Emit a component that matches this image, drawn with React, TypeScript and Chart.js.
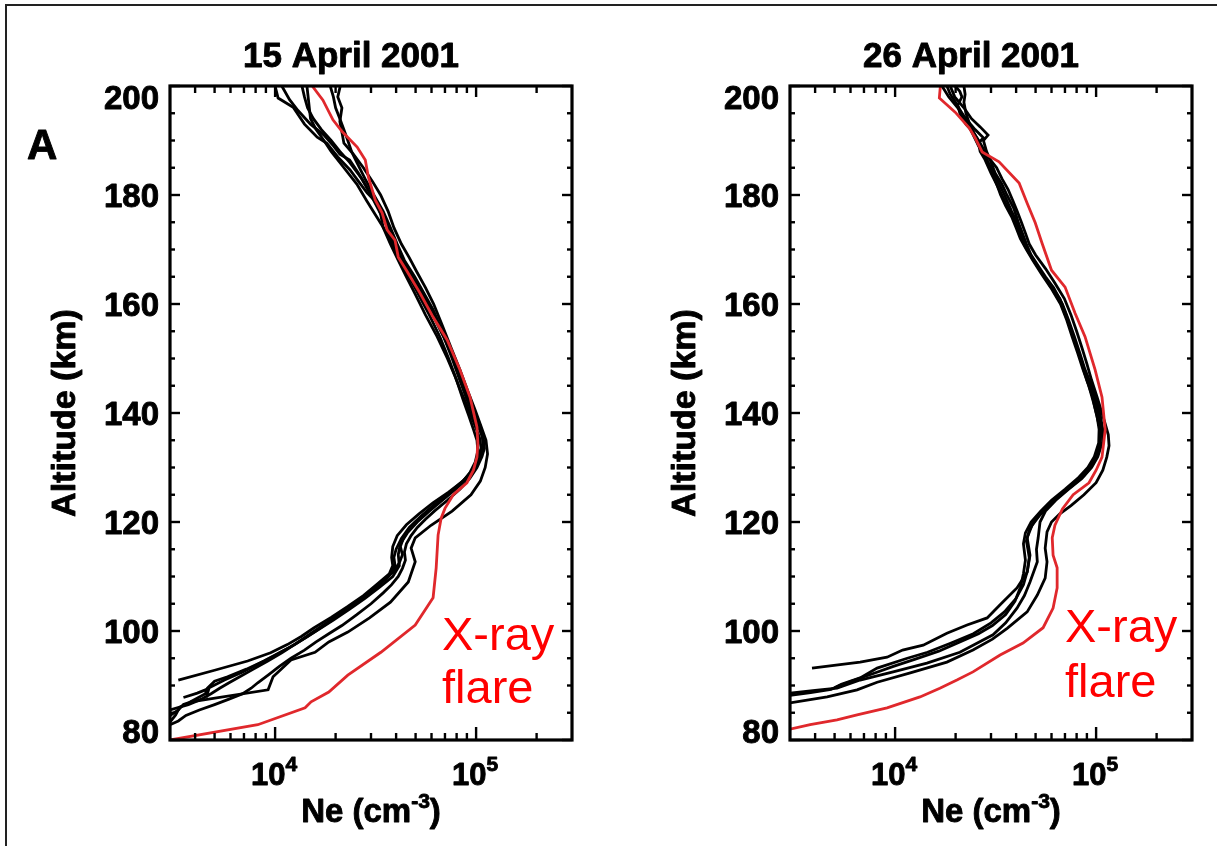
import React, { useEffect, useRef } from 'react';
import { Chart, registerables } from 'chart.js';

Chart.register(...registerables);

// ---------- axis values ----------
const NE_MIN = 3000;
const NE_MAX = 300000;
const ALT_MIN = 80;
const ALT_MAX = 200;
const altMajorTicks = [80, 100, 120, 140, 160, 180, 200];
const altTickLabels = ['80', '100', '120', '140', '160', '180', '200'];
const altMinorTicks = [85, 90, 95, 105, 110, 115, 125, 130, 135, 145, 150, 155, 165, 170, 175, 185, 190, 195];
const neMajorTicks = [10000, 100000];
const neTickExponents = ['4', '5'];
const neMinorTicks = [4000, 5000, 6000, 7000, 8000, 9000, 20000, 30000, 40000, 50000, 60000, 70000, 80000, 90000, 200000];

// ---------- 15 April 2001 : [altitude km, Ne cm^-3] ----------
const apr15Red: [number, number][] = [
  [80.0, 3000], [82.8, 8200], [85.9, 14100], [87.0, 15100], [88.8, 18500], [91.9, 23000], [96.1, 33600],
  [101.1, 49800], [106.1, 61100], [111.6, 63300], [117.6, 64700], [120.7, 67000], [122.5, 70000],
  [125.0, 77000], [127.2, 90000], [129.5, 97000], [131.9, 101000], [134.5, 102000], [137.4, 101000],
  [142.9, 93300], [147.9, 83200], [153.4, 71800], [157.6, 61100], [162.0, 52600], [166.2, 45000],
  [168.6, 41000], [171.7, 39500], [173.6, 36100], [176.7, 34100], [179.1, 31500], [183.3, 29100],
  [186.4, 28100], [188.8, 25600], [191.6, 21600], [193.8, 19400], [197.4, 17300], [200.0, 15300],
];
const apr15Black1: [number, number][] = [
  [91.0, 3300], [92.8, 5000], [94.5, 7300], [96.0, 9500], [97.5, 11500], [99.0, 13500], [100.5, 15500],
  [102.5, 19000], [104.5, 23000], [106.5, 27500], [108.5, 32000], [110.5, 37000], [112.0, 38500],
  [113.5, 38000], [115.5, 38500], [117.5, 40500], [119.5, 45000], [121.5, 52000], [123.5, 61000],
  [125.5, 73000], [127.5, 86000], [129.5, 96000], [131.5, 103000], [133.5, 106000], [135.5, 104000],
  [138.0, 98000], [141.0, 91000], [144.0, 84000], [147.0, 78000], [150.0, 72000], [154.0, 64000],
  [158.0, 56000], [162.0, 49500], [165.0, 45000], [168.0, 41000], [171.0, 37500], [174.0, 34500],
  [176.5, 33500], [178.5, 32200], [180.4, 28700], [182.5, 26000], [184.6, 23600], [187.0, 20500],
  [189.5, 18100], [190.6, 16200], [193.0, 14000], [196.1, 12300], [197.8, 10350], [200.0, 10000],
];
const apr15Black2: [number, number][] = [
  [87.8, 3500], [88.6, 4100], [89.2, 4500], [88.4, 4600], [89.6, 4700], [91.0, 5600], [92.5, 6900],
  [94.0, 8300], [95.5, 10000], [97.0, 11800], [98.5, 13800], [100.0, 16000], [102.0, 19500],
  [104.0, 23500], [106.0, 28000], [108.0, 33000], [110.0, 38500], [112.0, 41500], [114.0, 41000],
  [116.0, 42000], [118.0, 45500], [120.0, 51000], [122.0, 58500], [124.0, 68000], [126.0, 79000],
  [128.0, 90000], [130.0, 99000], [132.0, 105000], [134.0, 109000], [136.0, 107000], [138.5, 101000],
  [141.5, 94000], [145.0, 87000], [149.0, 79000], [153.0, 71000], [157.0, 63000], [160.0, 57000],
  [163.0, 51000], [166.0, 46500], [169.0, 41500], [172.0, 38000], [175.0, 35500], [178.0, 33000],
  [181.0, 29000], [184.0, 26000], [186.4, 23500], [187.5, 21000], [189.0, 19500], [191.0, 17500],
  [193.0, 15000], [195.5, 13000], [197.5, 11800], [200.0, 10800],
];
const apr15Black3: [number, number][] = [
  [83.3, 3000], [84.6, 3200], [86.0, 3350], [87.0, 3820], [89.2, 9230], [91.6, 9770], [94.7, 12000],
  [96.1, 15800], [98.0, 18500], [99.8, 23000], [102.4, 29500], [105.3, 37500], [109.0, 46000],
  [112.7, 49800], [115.2, 47500], [117.1, 49800], [119.4, 59700], [122.0, 76000], [125.0, 94300],
  [127.5, 105000], [130.0, 111000], [132.5, 114000], [135.0, 112000], [137.5, 106000], [140.5, 99000],
  [144.0, 91000], [148.0, 83000], [152.0, 75000], [156.0, 68000], [160.0, 61500], [163.0, 56000],
  [166.0, 50500], [168.5, 46500], [171.0, 42500], [174.0, 39000], [177.0, 36500], [180.0, 33500],
  [182.5, 30500], [185.0, 27500], [187.5, 24500], [189.5, 22000], [191.5, 21500], [193.5, 21000],
  [196.0, 21500], [198.0, 20500], [200.0, 21100],
];
const apr15Black4: [number, number][] = [
  [85.5, 3000], [86.5, 3700], [87.5, 4300], [88.5, 4800], [89.5, 5300], [90.5, 5900], [91.5, 6600],
  [93.0, 7800], [94.5, 9200], [96.0, 10800], [97.5, 12500], [99.0, 14500], [101.0, 17500],
  [103.0, 21000], [105.0, 25000], [107.0, 29500], [109.0, 34000], [110.5, 37500], [112.0, 39500],
  [113.5, 39000], [115.0, 40000], [117.0, 42500], [119.0, 46500], [121.0, 53000], [123.0, 62000],
  [125.0, 72600], [127.0, 84000], [129.0, 93000], [131.0, 99000], [133.0, 102000], [135.0, 101000],
  [137.0, 97000], [139.5, 92000], [142.5, 86000], [146.0, 80000], [150.0, 73000], [154.0, 66000],
  [158.0, 58500], [161.0, 53000], [164.0, 48000], [167.0, 43000], [170.0, 39500], [173.0, 36000],
  [176.0, 32000], [179.0, 28500], [182.0, 25500], [185.0, 22000], [188.0, 19000], [190.0, 17500],
  [192.0, 16000], [194.0, 15000], [196.0, 14800], [198.0, 14600], [200.0, 14400],
];
const apr15Black5: [number, number][] = [
  [84.5, 3000], [85.5, 3300], [86.5, 3500], [86.8, 3700], [88.5, 4500], [89.5, 4600], [90.8, 5000],
  [91.6, 5800], [93.0, 7200], [94.5, 8800], [96.0, 10500], [97.5, 12500], [99.5, 15000],
  [101.5, 18000], [103.5, 21500], [105.5, 26000], [107.5, 30500], [109.5, 35500], [111.0, 39000],
  [112.5, 41500], [114.0, 43000], [115.5, 42000], [117.0, 43500], [118.5, 46000], [120.0, 50000],
  [122.0, 57000], [124.0, 66000], [126.0, 77000], [128.0, 89000], [130.0, 98000], [132.0, 103000],
  [134.0, 107000], [136.0, 108000], [138.0, 104000], [140.5, 98000], [143.5, 91000], [147.0, 83000],
  [151.0, 75000], [155.0, 68000], [159.0, 61000], [162.0, 55000], [165.0, 49500], [168.0, 44000],
  [171.0, 40500], [174.0, 37500], [177.0, 34500], [180.0, 31000], [183.0, 28000], [186.0, 25500],
  [188.0, 24000], [190.0, 23000], [192.0, 22000], [194.0, 21000], [196.0, 20000], [198.0, 19500],
  [200.0, 18800],
];
const apr15Black6: [number, number][] = [
  [82.8, 3000], [83.5, 3300], [84.5, 3600], [85.5, 4200], [86.5, 5000], [87.5, 5900], [88.5, 6900],
  [89.5, 7600], [90.5, 8200], [92.0, 9300], [93.5, 10500], [95.0, 12000], [96.5, 14000],
  [98.0, 16000], [99.5, 18500], [101.0, 21500], [103.0, 25500], [105.0, 30000], [107.0, 34500],
  [108.5, 38000], [110.0, 41000], [111.5, 43000], [113.0, 44500], [114.5, 44000], [116.0, 45000],
  [117.5, 47500], [119.0, 51000], [120.5, 56000], [122.0, 62000], [124.0, 72000], [126.0, 83000],
  [128.0, 93000], [130.0, 101000], [132.0, 107000], [133.5, 110000], [135.0, 109000], [137.0, 104000],
  [139.5, 97000], [142.5, 90000], [146.0, 83000], [150.0, 76000], [154.0, 69000], [158.0, 61000],
  [161.5, 55000], [165.0, 48000], [168.0, 43000], [171.0, 39500], [174.0, 36500], [177.0, 33000],
  [180.0, 30000], [183.0, 27000], [186.0, 23500], [188.0, 21000], [190.0, 19000], [192.0, 17000],
  [194.0, 15500], [196.0, 14500], [198.0, 14000], [200.0, 13600],
];

// ---------- 26 April 2001 : [altitude km, Ne cm^-3] ----------
const apr26Red: [number, number][] = [
  [82.0, 3000], [82.8, 3780], [83.7, 5140], [84.6, 6470], [85.9, 9120], [87.9, 13300], [89.5, 16700],
  [91.0, 20300], [92.5, 24400], [95.6, 33300], [97.8, 43300], [100.6, 54500], [104.2, 61100],
  [107.9, 64000], [111.6, 64000], [113.9, 61100], [117.1, 60500], [119.4, 62400], [122.4, 68000],
  [125.0, 76900], [127.2, 92200], [129.5, 100000], [131.9, 107000], [136.9, 111000], [142.9, 107000],
  [147.9, 98900], [154.0, 88100], [158.3, 78600], [163.1, 70100], [166.2, 60000], [171.2, 53800],
  [174.9, 49800], [178.5, 45400], [182.2, 41400], [186.1, 32900], [187.9, 27100], [190.5, 25000],
  [192.3, 23400], [195.2, 19900], [197.8, 16600], [200.0, 16800],
];
const apr26Black1: [number, number][] = [
  [93.2, 3860], [93.8, 5200], [94.3, 6700], [95.2, 9120], [96.5, 10900], [97.4, 13800], [99.6, 18100],
  [101.1, 22800], [102.4, 28700], [104.8, 33300], [107.9, 40400], [110.8, 45400], [113.9, 46900],
  [117.1, 45400], [119.4, 48000], [121.3, 52600], [123.7, 61100], [126.0, 72000], [128.0, 84000],
  [130.0, 93000], [132.0, 100000], [134.0, 104000], [136.5, 106000], [139.0, 104000], [142.0, 99000],
  [145.0, 93000], [148.0, 87000], [151.0, 82000], [154.0, 77000], [157.0, 72000], [160.0, 67000],
  [163.0, 60000], [166.0, 53000], [168.0, 49000], [170.0, 45500], [172.0, 43000], [174.5, 41000],
  [177.0, 38000], [180.0, 35000], [183.0, 32000], [185.0, 30000], [187.0, 28000], [189.0, 26000],
  [191.0, 24500], [193.0, 23000], [195.0, 21500], [197.0, 20000], [198.5, 18800], [200.0, 18100],
];
const apr26Black2: [number, number][] = [
  [88.6, 3000], [89.1, 4000], [89.5, 5140], [89.7, 5300], [91.0, 6700], [92.5, 9780], [94.1, 14400],
  [96.1, 21000], [99.3, 30700], [101.5, 35500], [104.2, 40400], [106.5, 44000], [109.0, 46900],
  [112.7, 51000], [115.0, 50500], [117.1, 51500], [120.0, 52600], [122.0, 56000], [124.0, 63000],
  [126.0, 73000], [128.0, 85000], [130.0, 95000], [132.0, 102000], [134.5, 107000], [137.0, 108000],
  [139.5, 105000], [142.0, 101000], [145.0, 95000], [148.0, 88000], [151.0, 83000], [154.0, 78000],
  [157.0, 73000], [160.0, 68000], [163.0, 61500], [165.0, 56000], [167.0, 51500], [169.0, 47500],
  [171.0, 45000], [173.0, 43000], [175.0, 41000], [177.5, 39000], [180.0, 36000], [182.0, 34000],
  [184.0, 31500], [186.0, 30000], [188.0, 28500], [190.0, 27500], [191.0, 29000], [192.5, 26500],
  [194.0, 24000], [196.0, 22000], [198.0, 19800], [200.0, 18800],
];
const apr26Black3: [number, number][] = [
  [86.8, 3000], [87.9, 4590], [89.2, 6470], [90.6, 8140], [92.3, 11900], [94.3, 18100], [96.5, 24400],
  [98.5, 30500], [100.5, 36100], [103.5, 45400], [106.6, 51000], [109.7, 55800], [112.7, 57000],
  [115.2, 55800], [118.2, 57000], [120.0, 60000], [121.5, 66000], [123.0, 75000], [125.0, 87000],
  [127.2, 100000], [129.5, 108000], [131.9, 113000], [134.0, 116000], [136.0, 115000], [138.0, 111000],
  [140.5, 106000], [143.0, 101000], [146.0, 95000], [149.0, 90000], [152.0, 85000], [155.0, 80000],
  [158.0, 75000], [161.0, 69500], [164.0, 62000], [166.5, 56000], [169.0, 50000], [171.0, 46500],
  [173.0, 44500], [175.0, 42500], [177.0, 40500], [179.0, 38500], [181.0, 36500], [183.0, 34000],
  [185.0, 32000], [187.0, 29000], [189.0, 27000], [191.0, 25000], [193.0, 23500], [195.0, 22500],
  [197.0, 22000], [198.5, 22300], [200.0, 22000],
];
const apr26Black4: [number, number][] = [
  [89.6, 5000], [90.2, 5400], [91.4, 6700], [93.2, 8140], [95.0, 11500], [96.1, 14500], [97.8, 19000],
  [99.5, 24500], [101.5, 30000], [103.5, 35000], [106.0, 40000], [108.5, 43500], [111.0, 45500],
  [113.5, 46500], [115.0, 45800], [116.5, 45000], [118.5, 46500], [120.5, 50000], [122.5, 56000],
  [124.5, 64000], [126.5, 75000], [128.5, 87000], [130.5, 96000], [132.5, 102000], [135.0, 105000],
  [137.5, 104000], [140.0, 100000], [143.0, 96000], [146.0, 90000], [149.0, 85000], [152.0, 80000],
  [155.0, 75500], [158.0, 71000], [161.0, 66000], [164.0, 58000], [166.5, 52000], [168.5, 48000],
  [170.5, 44500], [172.5, 42000], [175.0, 39500], [178.0, 36000], [181.0, 33000], [184.0, 30000],
  [186.5, 28000], [188.0, 26500], [189.5, 26000], [190.5, 27500], [192.0, 25000], [194.0, 22500],
  [196.0, 20500], [198.0, 18500], [200.0, 17100],
];
const apr26Black5: [number, number][] = [
  [88.2, 3000], [88.7, 3800], [89.3, 4800], [90.0, 5300], [91.0, 6300], [92.2, 7800], [93.5, 9800],
  [94.8, 12500], [96.3, 16500], [98.0, 21000], [99.5, 26000], [101.0, 30500], [103.0, 35500],
  [105.5, 39500], [108.0, 42000], [110.5, 43500], [113.0, 44500], [114.5, 44000], [116.0, 43500],
  [118.0, 44500], [120.0, 47500], [122.0, 53000], [124.0, 60000], [126.0, 70000], [128.0, 81000],
  [130.0, 91000], [132.0, 98000], [134.5, 103000], [137.0, 103500], [139.5, 101000], [142.0, 97000],
  [145.0, 92000], [148.0, 86000], [151.0, 81000], [154.0, 76000], [157.0, 71500], [160.0, 66500],
  [163.0, 59500], [165.5, 53500], [168.0, 48500], [170.0, 45000], [172.0, 42000], [174.0, 40000],
  [176.0, 38000], [178.0, 35500], [180.0, 33500], [182.0, 32000], [184.0, 30500], [186.0, 29000],
  [188.0, 27500], [190.0, 26000], [191.5, 24500], [193.0, 22500], [195.0, 21000], [196.5, 20500],
  [198.0, 21500], [199.0, 21000], [200.0, 19900],
];

// ---------- text ----------
const FONT = "'Liberation Sans', Arial, Helvetica, sans-serif";
const SX = 1.0;

type Part = { text: string; size: number; bold: boolean; dy: number };

function fontOf(p: Part) {
  return `${p.bold ? 'bold ' : ''}${p.size}px ${FONT}`;
}

function drawParts(ctx: CanvasRenderingContext2D, parts: Part[], x: number, y: number, align: string, sx: number, color: string, stroke: number) {
  const widths = parts.map((p) => {
    ctx.font = fontOf(p);
    return ctx.measureText(p.text).width * sx;
  });
  const total = widths.reduce((a, b) => a + b, 0);
  let cx = align === 'center' ? x - total / 2 : align === 'right' ? x - total : x;
  parts.forEach((p, i) => {
    ctx.save();
    ctx.font = fontOf(p);
    ctx.fillStyle = color;
    ctx.strokeStyle = color;
    ctx.lineJoin = 'round';
    ctx.textAlign = 'left';
    ctx.textBaseline = 'alphabetic';
    ctx.translate(cx, y + p.dy);
    ctx.scale(sx, 1);
    ctx.fillText(p.text, 0, 0);
    if (stroke > 0) {
      ctx.lineWidth = stroke;
      ctx.strokeText(p.text, 0, 0);
    }
    ctx.restore();
    cx += widths[i];
  });
}

type Panel = {
  title: string;
  red: [number, number][];
  blacks: [number, number][][];
  flareX: number;
  flareY1: number;
  flareY2: number;
  showLetter: boolean;
};

const panels: Panel[] = [
  { title: '15 April 2001', red: apr15Red, blacks: [apr15Black1, apr15Black2, apr15Black3, apr15Black4, apr15Black5, apr15Black6], flareX: 272, flareY1: 650, flareY2: 703, showLetter: true },
  { title: '26 April 2001', red: apr26Red, blacks: [apr26Black1, apr26Black2, apr26Black3, apr26Black4, apr26Black5], flareX: 275, flareY1: 642, flareY2: 697, showLetter: false },
];

const TXT_STROKE = 0.9;

function makeDecor(panel: Panel) {
  return {
    id: 'decor',
    afterDraw(chart: any) {
      const ctx: CanvasRenderingContext2D = chart.ctx;
      const { left, right, top, bottom } = chart.chartArea;
      const xs = chart.scales.x;
      const ys = chart.scales.y;
      ctx.save();
      ctx.strokeStyle = '#000';
      ctx.lineCap = 'butt';
      ctx.lineWidth = 2.4;
      const line = (x1: number, y1: number, x2: number, y2: number) => {
        ctx.beginPath();
        ctx.moveTo(x1, y1);
        ctx.lineTo(x2, y2);
        ctx.stroke();
      };
      altMajorTicks.forEach((v) => {
        const py = ys.getPixelForValue(v);
        line(left, py, left + 10, py);
        line(right - 10, py, right, py);
      });
      altMinorTicks.forEach((v) => {
        const py = ys.getPixelForValue(v);
        line(left, py, left + 5, py);
        line(right - 5, py, right, py);
      });
      neMajorTicks.forEach((v) => {
        const px = xs.getPixelForValue(v);
        line(px, bottom, px, bottom - 13);
        line(px, top, px, top + 11);
      });
      neMinorTicks.forEach((v) => {
        const px = xs.getPixelForValue(v);
        line(px, bottom, px, bottom - 7);
        line(px, top, px, top + 7);
      });
      ctx.lineWidth = 3.2;
      ctx.strokeRect(left, top, right - left, bottom - top);

      // title
      drawParts(ctx, [{ text: panel.title, size: 35, bold: true, dy: 0 }], (left + right) / 2 - 20, 67, 'center', SX, '#000', TXT_STROKE);

      // y tick labels
      altMajorTicks.forEach((v, i) => {
        let py = ys.getPixelForValue(v);
        if (v === ALT_MAX) py += 11;
        if (v === ALT_MIN) py -= 9;
        drawParts(ctx, [{ text: altTickLabels[i], size: 33, bold: true, dy: 0 }], left - 11, py + 11.8, 'right', SX, '#000', TXT_STROKE);
      });

      // x tick labels 10^n
      neMajorTicks.forEach((v, i) => {
        const px = xs.getPixelForValue(v);
        drawParts(ctx, [
          { text: '10', size: 31, bold: true, dy: 0 },
          { text: neTickExponents[i], size: 21, bold: true, dy: -14 },
        ], px - 1, 785, 'center', SX, '#000', TXT_STROKE);
      });

      // axis titles
      drawParts(ctx, [
        { text: 'Ne (cm', size: 33, bold: true, dy: 0 },
        { text: '-3', size: 21, bold: true, dy: -14 },
        { text: ')', size: 33, bold: true, dy: 0 },
      ], (left + right) / 2, 822, 'center', SX, '#000', TXT_STROKE);

      ctx.save();
      ctx.translate(left - 95, (top + bottom) / 2);
      ctx.rotate(-Math.PI / 2);
      drawParts(ctx, [{ text: 'Altitude (km)', size: 34, bold: true, dy: 0 }], 0, 0, 'center', SX, '#000', TXT_STROKE);
      ctx.restore();

      // annotation
      drawParts(ctx, [{ text: 'X-ray', size: 47, bold: false, dy: 0 }], left + panel.flareX, panel.flareY1, 'left', 1.0, '#ff0000', 0);
      drawParts(ctx, [{ text: 'flare', size: 47, bold: false, dy: 0 }], left + panel.flareX, panel.flareY2, 'left', 1.0, '#ff0000', 0);

      if (panel.showLetter) {
        drawParts(ctx, [{ text: 'A', size: 42, bold: true, dy: 0 }], 27, 159, 'left', 1.0, '#000', TXT_STROKE);
      }
      ctx.restore();
    },
  };
}

function toPoints(arr: [number, number][]) {
  return arr.map(([alt, ne]) => ({ x: ne, y: alt }));
}

function PanelChart({ panel, x, width, plotLeft, plotRight }: { panel: Panel; x: number; width: number; plotLeft: number; plotRight: number }) {
  const ref = useRef<HTMLCanvasElement | null>(null);
  useEffect(() => {
    if (!ref.current) return;
    const datasets: any[] = [
      {
        data: toPoints(panel.red),
        borderColor: '#e0282c',
        borderWidth: 2.8,
        pointRadius: 0,
        showLine: true,
        tension: 0,
        fill: false,
        order: 0,
      },
      ...panel.blacks.map((b) => ({
        data: toPoints(b),
        borderColor: '#000',
        borderWidth: 2.8,
        pointRadius: 0,
        showLine: true,
        tension: 0,
        fill: false,
        order: 1,
      })),
    ];
    const chart = new Chart(ref.current, {
      type: 'scatter',
      data: { datasets },
      options: {
        animation: false,
        responsive: false,
        devicePixelRatio: 1,
        events: [],
        layout: { padding: { left: plotLeft, right: width - plotRight, top: 86, bottom: 846 - 740 } },
        plugins: { legend: { display: false }, title: { display: false }, tooltip: { enabled: false } },
        scales: {
          x: { type: 'logarithmic', min: NE_MIN, max: NE_MAX, display: false },
          y: { type: 'linear', min: ALT_MIN, max: ALT_MAX, display: false },
        },
      } as any,
      plugins: [makeDecor(panel)],
    });
    return () => chart.destroy();
  }, [panel, width, plotLeft, plotRight]);
  return (
    <canvas
      ref={ref}
      width={width}
      height={846}
      style={{ position: 'absolute', left: x, top: 0, width, height: 846 }}
    />
  );
}

export default function App() {
  return (
    <div style={{ position: 'fixed', left: 0, top: 0, width: 1217, height: 846, background: '#fff', overflow: 'hidden' }}>
      <PanelChart panel={panels[0]} x={0} width={609} plotLeft={170} plotRight={572} />
      <PanelChart panel={panels[1]} x={609} width={608} plotLeft={181} plotRight={583} />
      <div style={{ position: 'absolute', left: 5, top: 4, width: 1300, height: 1000, borderLeft: '2px solid #222', borderTop: '2px solid #222', boxSizing: 'border-box', pointerEvents: 'none' }} />
    </div>
  );
}
